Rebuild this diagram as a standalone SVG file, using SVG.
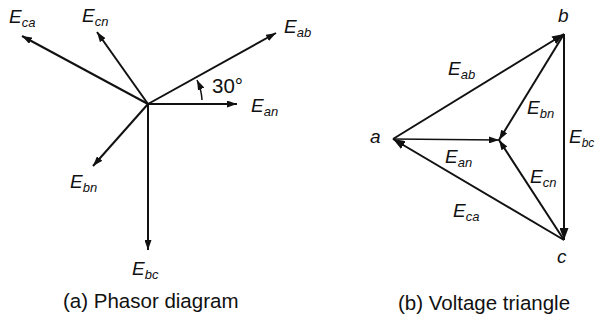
<svg xmlns="http://www.w3.org/2000/svg" width="596" height="320" viewBox="0 0 596 320">
<style>
.ln{stroke:#111;stroke-width:2;fill:none}
.lbl{font-family:"Liberation Sans",Arial,sans-serif;font-style:italic;font-size:19px;fill:#111}
.sub{font-size:13px}
.cap{font-family:"Liberation Sans",Arial,sans-serif;font-size:20.5px;fill:#111}
</style>
<defs>
<marker id="ah" markerWidth="10" markerHeight="7" refX="10" refY="3.5" orient="auto" markerUnits="userSpaceOnUse">
<path d="M0,0 L10,3.5 L0,7 z" fill="#111"/>
</marker>
<marker id="ahb" markerWidth="12" markerHeight="9" refX="12" refY="4.5" orient="auto" markerUnits="userSpaceOnUse">
<path d="M0,0 L12,4.5 L0,9 z" fill="#111"/>
</marker>
</defs>
<rect width="596" height="320" fill="#fff"/>

<g id="connectors">
<!-- (a) phasor diagram -->
<line class="ln" x1="148" y1="104" x2="237" y2="104" marker-end="url(#ah)"/>
<line class="ln" x1="148" y1="104" x2="276" y2="33" marker-end="url(#ah)"/>
<line class="ln" x1="148" y1="104" x2="22" y2="36" marker-end="url(#ah)"/>
<line class="ln" x1="148" y1="104" x2="97" y2="32" marker-end="url(#ah)"/>
<line class="ln" x1="148" y1="104" x2="93" y2="166" marker-end="url(#ah)"/>
<line class="ln" x1="148" y1="104" x2="148" y2="250" marker-end="url(#ah)"/>
<path class="ln" style="stroke-width:1.5" d="M202,100 A54,54 0 0 0 197,80" marker-end="url(#ah)"/>
<!-- (b) voltage triangle -->
<line class="ln" x1="393" y1="139" x2="564" y2="34" marker-end="url(#ahb)"/>
<line class="ln" x1="564" y1="34" x2="564" y2="240" marker-end="url(#ahb)"/>
<line class="ln" x1="564" y1="240" x2="393" y2="139" marker-end="url(#ahb)"/>
<line class="ln" style="stroke-width:1.6" x1="393" y1="139" x2="499" y2="140" marker-end="url(#ah)"/>
<line class="ln" x1="564" y1="34" x2="499" y2="140" marker-end="url(#ah)"/>
<line class="ln" x1="564" y1="240" x2="499" y2="140" marker-end="url(#ah)"/>
</g>

<g id="phasor-labels">
<text class="lbl" x="9" y="23">E<tspan class="sub" dy="4">ca</tspan></text>
<text class="lbl" x="82" y="22">E<tspan class="sub" dy="4">cn</tspan></text>
<text class="lbl" x="284" y="33">E<tspan class="sub" dy="4">ab</tspan></text>
<text class="lbl" x="251" y="112">E<tspan class="sub" dy="4">an</tspan></text>
<text class="lbl" x="70" y="188">E<tspan class="sub" dy="4">bn</tspan></text>
<text class="lbl" x="132" y="275">E<tspan class="sub" dy="4">bc</tspan></text>
<text class="cap" x="212" y="93">30°</text>
<text class="cap" x="63" y="308">(a) Phasor diagram</text>
</g>

<g id="node-a"><text class="lbl" x="370" y="143">a</text></g>
<g id="node-b"><text class="lbl" x="558" y="22">b</text></g>
<g id="node-c"><text class="lbl" x="557" y="263">c</text></g>

<g id="triangle-labels">
<text class="lbl" x="448" y="75">E<tspan class="sub" dy="4">ab</tspan></text>
<text class="lbl" x="527" y="114">E<tspan class="sub" dy="4">bn</tspan></text>
<text class="lbl" x="569" y="143">E<tspan class="sub" dy="4" style="font-size:12px">bc</tspan></text>
<text class="lbl" x="445" y="163">E<tspan class="sub" dy="4">an</tspan></text>
<text class="lbl" x="530" y="183">E<tspan class="sub" dy="4">cn</tspan></text>
<text class="lbl" x="453" y="217">E<tspan class="sub" dy="4">ca</tspan></text>
<text class="cap" x="398" y="310">(b) Voltage triangle</text>
</g>
</svg>
